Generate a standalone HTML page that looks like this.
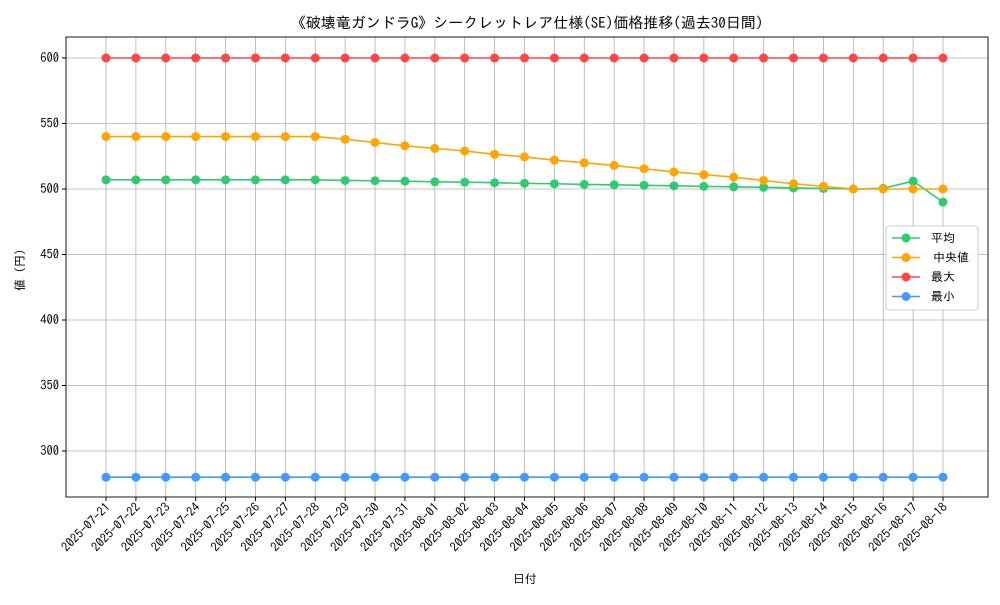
<!DOCTYPE html>
<html><head><meta charset="utf-8"><style>
body{margin:0;background:#fff;font-family:"Liberation Sans","IPAGothic","Noto Sans CJK JP",sans-serif}
svg text{font-family:"IPAGothic","Noto Sans CJK JP",sans-serif}
</style></head><body>
<svg id="chart" width="1000" height="600" xmlns="http://www.w3.org/2000/svg"></svg>
<script>
const dates=["2025-07-21","2025-07-22","2025-07-23","2025-07-24","2025-07-25","2025-07-26","2025-07-27","2025-07-28","2025-07-29","2025-07-30","2025-07-31","2025-08-01","2025-08-02","2025-08-03","2025-08-04","2025-08-05","2025-08-06","2025-08-07","2025-08-08","2025-08-09","2025-08-10","2025-08-11","2025-08-12","2025-08-13","2025-08-14","2025-08-15","2025-08-16","2025-08-17","2025-08-18"];
const meanVals=[507,507,507,507,507,507,507,507,506.5,506.3,506,505.5,505.2,504.8,504.3,504,503.5,503.2,502.8,502.4,502,501.7,501.3,500.8,500.4,500,500.5,506,490];
const medianVals=[540,540,540,540,540,540,540,540,538,535.5,533,531,529,526.5,524.5,522,520,518,515.5,513,511,509,506.5,504,502,500,500,500,500];
const maxVals=[600,600,600,600,600,600,600,600,600,600,600,600,600,600,600,600,600,600,600,600,600,600,600,600,600,600,600,600,600];
const minVals=[280,280,280,280,280,280,280,280,280,280,280,280,280,280,280,280,280,280,280,280,280,280,280,280,280,280,280,280,280];
const yTicks=[300,350,400,450,500,550,600];
</script>
<script>
const svg=document.getElementById('chart');const NS="http://www.w3.org/2000/svg";
function mk(t,a,p){const e=document.createElementNS(NS,t);for(const k in a)e.setAttribute(k,a[k]);(p||svg).appendChild(e);return e;}
const L=66,R=988,T=37,B=497;
const n=dates.length;
const xs=i=>106+i*(943-106)/(n-1);
const ys=v=>58+(600-v)*(189-58)/100;
const bg=mk('rect',{x:0,y:0,width:1000,height:600,fill:'#fff'});


const grid=mk('g',{});


dates.forEach((d,i)=>{mk('line',{x1:xs(i),x2:xs(i),y1:T,y2:B,stroke:'#b0b0b0','stroke-width':0.8},grid);});
yTicks.forEach(v=>{mk('line',{x1:L,x2:R,y1:ys(v),y2:ys(v),stroke:'#b0b0b0','stroke-width':0.8},grid);});
const xa=mk('g',{});


dates.forEach((d,i)=>{const x=xs(i);mk('line',{x1:x,x2:x,y1:B,y2:B+4,stroke:'#000'},xa);
const t=mk('text',{x:x+5,y:B+11,'font-size':12.5,'text-anchor':'end',transform:`rotate(-45 ${x+5} ${B+11})`},xa);t.textContent=d;

});
const ya=mk('g',{});


yTicks.forEach(v=>{const y=ys(v);mk('line',{x1:L-4,x2:L,y1:y,y2:y,stroke:'#000'},ya);
const t=mk('text',{x:L-7,y:y+4,'font-size':12.5,'text-anchor':'end'},ya);t.textContent=v;

});
const series=[["mean",meanVals,'#2ecc71'],["median",medianVals,'#ffa500'],["max",maxVals,'#ff4444'],["min",minVals,'#4499ff']];
series.forEach(([nm,vals,c])=>{const g=mk('g',{});


mk('polyline',{points:vals.map((v,i)=>xs(i)+','+ys(v)).join(' '),fill:'none',stroke:c,'stroke-width':1.6},g);
vals.forEach((v,i)=>{const p=mk('circle',{cx:xs(i),cy:ys(v),r:4.5,fill:c},g);

});});
mk('rect',{x:L,y:T,width:R-L,height:B-T,fill:'none',stroke:'#000','stroke-width':0.9});
const title=mk('text',{x:527,y:28,'font-size':15,'text-anchor':'middle'});title.textContent='《破壊竜ガンドラG》シークレットレア仕様(SE)価格推移(過去30日間)';


const xl=mk('text',{x:525,y:583,'font-size':12,'text-anchor':'middle'});xl.textContent='日付';


const yl=mk('text',{x:24,y:270,'font-size':12,'text-anchor':'middle',transform:'rotate(-90 24 270)'});yl.textContent='値 (円)';


const lg=mk('g',{});


mk('rect',{x:886,y:226,width:92,height:84,rx:3,fill:'#fff','fill-opacity':0.85,stroke:'#ccc'},lg);
[["平均",'#2ecc71',931],["中央値",'#ffa500',933],["最大",'#ff4444',931],["最小",'#4499ff',931]].forEach(([lab,c,tx],i)=>{const y=238+i*19.5;
const e=mk('g',{},lg);


mk('line',{x1:892,x2:920,y1:y,y2:y,stroke:c,'stroke-width':1.6},e);
mk('circle',{cx:906,cy:y,r:4.5,fill:c},e);
const t=mk('text',{x:tx,y:y+4,'font-size':12},e);t.textContent=lab;});
</script>
</body></html>
